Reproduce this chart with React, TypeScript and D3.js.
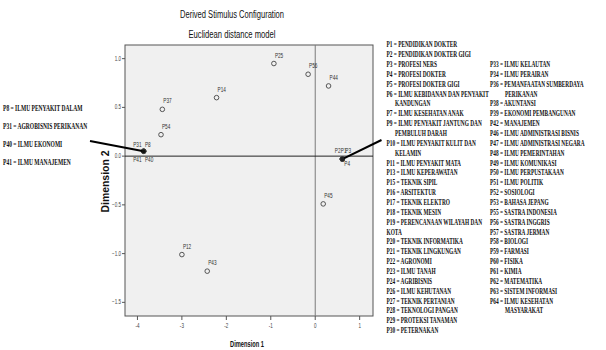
import React from "react";
import * as d3 from "d3";

// ---------- data ----------
const pointNames = ["P25", "P56", "P44", "P14", "P37", "P54", "P31", "P8", "P41", "P40", "P2", "P1", "P3", "P4", "P45", "P12", "P43"];
const dim1 = [-0.93, -0.16, 0.30, -2.22, -3.44, -3.47, -3.86, -3.86, -3.86, -3.86, 0.61, 0.61, 0.61, 0.61, 0.18, -3.0, -2.43];
const dim2 = [0.95, 0.84, 0.72, 0.60, 0.48, 0.22, 0.05, 0.05, 0.05, 0.05, -0.03, -0.03, -0.03, -0.03, -0.49, -1.01, -1.18];

const xTicks = [-4, -3, -2, -1, 0, 1];
const yTicks = [1.0, 0.5, 0.0, -0.5, -1.0, -1.5];

const title = "Derived Stimulus Configuration";
const subtitle = "Euclidean distance model";
const xLabel = "Dimension 1";
const yLabel = "Dimension 2";

const leftNotes = [
  "P8 = ILMU PENYAKIT DALAM",
  "P31 = AGROBISNIS PERIKANAN",
  "P40 = ILMU EKONOMI",
  "P41 = ILMU MANAJEMEN",
];

const legendCol1: string[][] = [
  ["P1 = PENDIDIKAN DOKTER"],
  ["P2 = PENDIDIKAN DOKTER GIGI"],
  ["P3 = PROFESI NERS"],
  ["P4 = PROFESI DOKTER"],
  ["P5 = PROFESI DOKTER GIGI"],
  ["P6 = ILMU KEBIDANAN DAN PENYAKIT", "KANDUNGAN"],
  ["P7 = ILMU KESEHATAN ANAK"],
  ["P9 = ILMU PENYAKIT JANTUNG DAN", "PEMBULUH DARAH"],
  ["P10 = ILMU PENYAKIT KULIT DAN", "KELAMIN"],
  ["P11 = ILMU PENYAKIT MATA"],
  ["P13 = ILMU KEPERAWATAN"],
  ["P15 = TEKNIK SIPIL"],
  ["P16 = ARSITEKTUR"],
  ["P17 = TEKNIK ELEKTRO"],
  ["P18 = TEKNIK MESIN"],
  ["P19 = PERENCANAAN WILAYAH DAN", "KOTA"],
  ["P20 = TEKNIK INFORMATIKA"],
  ["P21 = TEKNIK LINGKUNGAN"],
  ["P22 = AGRONOMI"],
  ["P23 = ILMU TANAH"],
  ["P24 = AGRIBISNIS"],
  ["P26 = ILMU KEHUTANAN"],
  ["P27 = TEKNIK PERTANIAN"],
  ["P28 = TEKNOLOGI PANGAN"],
  ["P29 = PROTEKSI TANAMAN"],
  ["P30 = PETERNAKAN"],
];

const legendCol2: string[][] = [
  ["P33 = ILMU KELAUTAN"],
  ["P34 = ILMU PERAIRAN"],
  ["P36 = PEMANFAATAN SUMBERDAYA", "PERIKANAN"],
  ["P38 = AKUNTANSI"],
  ["P39 = EKONOMI PEMBANGUNAN"],
  ["P42 = MANAJEMEN"],
  ["P46 = ILMU ADMINISTRASI BISNIS"],
  ["P47 = ILMU ADMINISTRASI NEGARA"],
  ["P48 = ILMU PEMERINTAHAN"],
  ["P49 = ILMU KOMUNIKASI"],
  ["P50 = ILMU PERPUSTAKAAN"],
  ["P51 = ILMU POLITIK"],
  ["P52 = SOSIOLOGI"],
  ["P53 = BAHASA JEPANG"],
  ["P55 = SASTRA INDONESIA"],
  ["P56 = SASTRA INGGRIS"],
  ["P57 = SASTRA JERMAN"],
  ["P58 = BIOLOGI"],
  ["P59 = FARMASI"],
  ["P60 = FISIKA"],
  ["P61 = KIMIA"],
  ["P62 = MATEMATIKA"],
  ["P63 = SISTEM INFORMASI"],
  ["P64 = ILMU KESEHATAN", "MASYARAKAT"],
];

// ---------- layout / style ----------
const W = 606;
const H = 350;
const plot = { left: 125, right: 373, top: 45, bottom: 316 };
const xDomain: [number, number] = [-4.28, 1.3];
const yDomain: [number, number] = [-1.64, 1.14];

// label offsets relative to marker (dx, baseline dy)
const labelOffset: Record<string, [number, number]> = {
  P31: [-10.5, -4],
  P8: [1.3, -4],
  P41: [-10.5, 11],
  P40: [1.3, 11],
  P2: [-7.5, -6],
  P1: [-1.5, -6],
  P3: [3, -6],
  P4: [2, 7],
};
const defaultOffset: [number, number] = [1, -6];

const serif = "'Liberation Serif', 'Times New Roman', serif";
const sans = "'Liberation Sans', Arial, sans-serif";
const legendScale = 0.715;
const noteScale = 0.74;
const legendSize = 7.5;
const lineStep = 9.86;

function LegendColumn({ entries, x, y0, indent, noIndent }: { entries: string[][]; x: number; y0: number; indent: number; noIndent: string[] }) {
  const rows: { text: string; x: number; y: number }[] = [];
  let i = 0;
  entries.forEach((e) => {
    e.forEach((t, k) => {
      const ix = k > 0 && !noIndent.includes(t) ? indent : 0;
      rows.push({ text: t, x: x + ix, y: y0 + i * lineStep });
      i++;
    });
  });
  return (
    <g>
      {rows.map((r, j) => (
        <text
          key={j}
          transform={`translate(${r.x},${r.y}) scale(${legendScale},1)`}
          fontFamily={serif}
          fontWeight="bold"
          fontSize={legendSize}
          fill="#111"
        >
          {r.text}
        </text>
      ))}
    </g>
  );
}

export default function App() {
  const x = d3.scaleLinear().domain(xDomain).range([plot.left, plot.right]);
  const y = d3.scaleLinear().domain(yDomain).range([plot.bottom, plot.top]);
  const fmt = d3.format(".1f");

  const pts = pointNames.map((n, i) => ({ name: n, cx: x(dim1[i]), cy: y(dim2[i]) }));
  const leftCluster = pts.find((p) => p.name === "P8")!;
  const rightCluster = pts.find((p) => p.name === "P1")!;

  const cx = (plot.left + plot.right) / 2;

  return (
    <svg width={W} height={H} style={{ position: "absolute", left: 0, top: 0, background: "#fff" }}>
      <rect x={0} y={0} width={W} height={H} fill="#fff" />
      {/* titles */}
      <text x={232} y={18} textAnchor="middle" fontFamily={sans} fontSize={10} textLength={104} lengthAdjust="spacingAndGlyphs" fill="#111">
        {title}
      </text>
      <text x={232} y={38} textAnchor="middle" fontFamily={sans} fontSize={10} textLength={87} lengthAdjust="spacingAndGlyphs" fill="#111">
        {subtitle}
      </text>

      {/* plot area */}
      <rect x={plot.left} y={plot.top} width={plot.right - plot.left} height={plot.bottom - plot.top} fill="#f0f0f0" stroke="#555" strokeWidth={1} />
      {/* reference lines */}
      <line x1={x(0)} x2={x(0)} y1={plot.top} y2={plot.bottom} stroke="#7a7a7a" strokeWidth={1} />
      <line x1={plot.left} x2={plot.right} y1={y(0)} y2={y(0)} stroke="#222" strokeWidth={1} />

      {/* y ticks */}
      {yTicks.map((t) => (
        <g key={"y" + t}>
          <line x1={plot.left - 3} x2={plot.left} y1={y(t)} y2={y(t)} stroke="#555" />
          <text
            transform={`translate(${plot.left - 4},${y(t) + 2}) scale(0.7,1)`}
            textAnchor="end"
            fontFamily={sans}
            fontSize={6.5}
            fill="#444"
          >
            {fmt(t)}
          </text>
        </g>
      ))}
      {/* x ticks */}
      {xTicks.map((t) => (
        <g key={"x" + t}>
          <line x1={x(t)} x2={x(t)} y1={plot.bottom} y2={plot.bottom + 4} stroke="#555" />
          <text
            transform={`translate(${x(t)},${plot.bottom + 12}) scale(0.7,1)`}
            textAnchor="middle"
            fontFamily={sans}
            fontSize={6.5}
            fill="#444"
          >
            {t}
          </text>
        </g>
      ))}

      {/* axis titles */}
      <text x={cx - 2} y={347} textAnchor="middle" fontFamily={sans} fontWeight="bold" fontSize={9} textLength={34} lengthAdjust="spacingAndGlyphs" fill="#111">
        {xLabel}
      </text>
      <text
        transform={`translate(109,${(plot.top + plot.bottom) / 2 + 1}) rotate(-90)`}
        textAnchor="middle"
        fontFamily={sans}
        fontWeight="bold"
        fontSize={10}
        textLength={62}
        lengthAdjust="spacingAndGlyphs"
        fill="#111"
      >
        {yLabel}
      </text>

      {/* markers */}
      {pts.map((p) => (
        <circle key={"c" + p.name} cx={p.cx} cy={p.cy} r={2.3} fill="none" stroke="#444" strokeWidth={0.9} />
      ))}
      {pts.map((p) => {
        const [dx, dy] = labelOffset[p.name] || defaultOffset;
        return (
          <text
            key={"l" + p.name}
            transform={`translate(${p.cx + dx},${p.cy + dy}) scale(0.72,1)`}
            fontFamily={sans}
            fontSize={6.5}
            fill="#333"
          >
            {p.name}
          </text>
        );
      })}

      {/* pointer lines */}
      <line x1={90} y1={141} x2={leftCluster.cx} y2={leftCluster.cy} stroke="#000" strokeWidth={2} />
      <circle cx={leftCluster.cx} cy={leftCluster.cy} r={2} fill="#111" />
      <line x1={rightCluster.cx} y1={rightCluster.cy} x2={381.5} y2={140} stroke="#000" strokeWidth={2} />
      <circle cx={rightCluster.cx} cy={rightCluster.cy} r={2.2} fill="#222" />

      {/* left notes */}
      {leftNotes.map((t, i) => (
        <text
          key={"n" + i}
          transform={`translate(3,${110.8 + i * 17.9}) scale(${noteScale},1)`}
          fontFamily={serif}
          fontWeight="bold"
          fontSize={legendSize}
          fill="#111"
        >
          {t}
        </text>
      ))}

      {/* legends */}
      <LegendColumn entries={legendCol1} x={386.5} y0={47.2} indent={8.5} noIndent={["KOTA"]} />
      <LegendColumn entries={legendCol2} x={490} y0={47.2 + 2 * lineStep} indent={15} noIndent={[]} />
    </svg>
  );
}
